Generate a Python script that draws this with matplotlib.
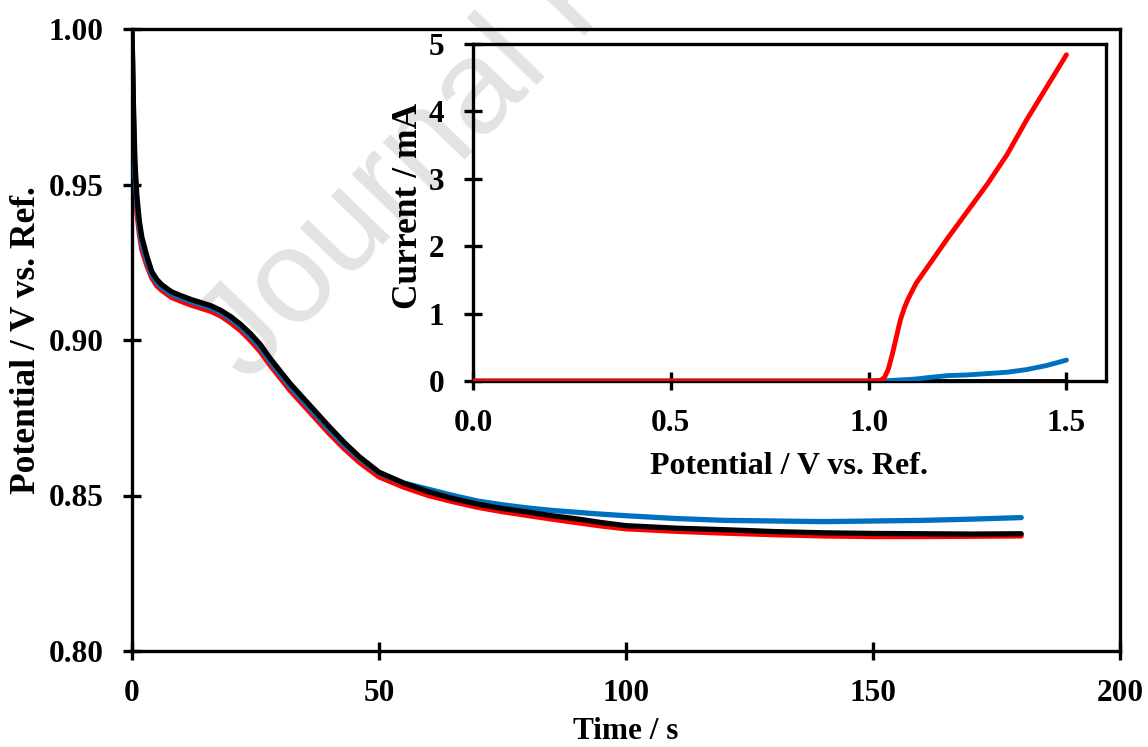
import matplotlib
matplotlib.use("Agg")
import matplotlib.pyplot as plt

# ---------------- data ----------------
time_s = [0, 0.3, 0.6, 1, 1.5, 2, 3, 4, 5, 6, 8, 10, 12, 14, 16, 18, 20, 22, 24,
          26, 28, 30, 32, 34, 36, 38, 40, 43, 46, 50, 55, 60, 65, 70, 75, 80, 85,
          90, 95, 100, 110, 120, 130, 140, 150, 160, 170, 180]

pot_black = [1.000, 0.975, 0.957, 0.946, 0.938, 0.933, 0.927, 0.922, 0.9195, 0.9178,
             0.9155, 0.9142, 0.913, 0.912, 0.911, 0.9095, 0.9075, 0.905, 0.902,
             0.8985, 0.894, 0.890, 0.886, 0.8825, 0.879, 0.8755, 0.872, 0.867,
             0.8625, 0.8575, 0.854, 0.8512, 0.849, 0.8472, 0.8458, 0.8447, 0.8435,
             0.8425, 0.8413, 0.8403, 0.8395, 0.839, 0.8384, 0.838, 0.8378, 0.8377,
             0.8376, 0.8377]

pot_blue = [1.000, 0.972, 0.954, 0.944, 0.936, 0.931, 0.9255, 0.921, 0.9185, 0.917,
            0.9147, 0.9135, 0.9123, 0.9113, 0.9103, 0.9088, 0.9067, 0.9042, 0.901,
            0.8975, 0.893, 0.889, 0.885, 0.8815, 0.878, 0.8745, 0.871, 0.8662,
            0.862, 0.8572, 0.854, 0.852, 0.850, 0.8482, 0.847, 0.846, 0.8452,
            0.8446, 0.844, 0.8435, 0.8426, 0.842, 0.8418, 0.8416, 0.8418, 0.842,
            0.8424, 0.8429]

pot_red = [1.000, 0.965, 0.950, 0.941, 0.934, 0.929, 0.924, 0.920, 0.9175, 0.916,
           0.9137, 0.9124, 0.9112, 0.9102, 0.9092, 0.9077, 0.9055, 0.903, 0.8998,
           0.8962, 0.8918, 0.8878, 0.8838, 0.8803, 0.8768, 0.8733, 0.8698, 0.865,
           0.8607, 0.856, 0.8527, 0.850, 0.848, 0.8462, 0.8448, 0.8436, 0.8424,
           0.8413, 0.8402, 0.8393, 0.8385, 0.8379, 0.8374, 0.837, 0.8368, 0.8368,
           0.8369, 0.837]

lsv_potential = [0.0, 0.5, 1.0, 1.03, 1.04, 1.05, 1.06, 1.07, 1.08, 1.09, 1.10,
                 1.12, 1.15, 1.20, 1.25, 1.30, 1.35, 1.40, 1.45, 1.50]
cur_black = [0.0] * 20
cur_blue = [0.0, 0.0, 0.0, 0.0, 0.002, 0.005, 0.008, 0.012, 0.016, 0.019, 0.022,
            0.03, 0.05, 0.08, 0.09, 0.11, 0.13, 0.17, 0.23, 0.31]
cur_red = [0.0, 0.0, 0.0, 0.01, 0.05, 0.18, 0.40, 0.65, 0.90, 1.08, 1.22,
           1.45, 1.70, 2.12, 2.52, 2.92, 3.36, 3.88, 4.36, 4.84]

main_xticks = [0, 50, 100, 150, 200]
main_yticks = [0.80, 0.85, 0.90, 0.95, 1.00]
inset_xticks = [0.0, 0.5, 1.0, 1.5]
inset_yticks = [0, 1, 2, 3, 4, 5]

# ---------------- style ----------------
plt.rcParams['font.family'] = ['Liberation Serif', 'DejaVu Serif']
plt.rcParams['font.weight'] = 'bold'
RED = '#FF0000'
BLUE = '#0070C0'
BLACK = '#000000'

fig = plt.figure(figsize=(11.48, 7.47), dpi=100)

# watermark
fig.text(0.216, 0.485, 'Journal Pre-proof', fontsize=96, color='#e3e3e3',
         family='Liberation Sans', fontweight='normal', rotation=46,
         rotation_mode='anchor', ha='left', va='baseline', zorder=-5)

ax = fig.add_axes([132/1148, 1-651/747, 988/1148, 622/747])
ax.set_facecolor('none')
ax.plot(time_s, pot_red, color=RED, lw=3.8, solid_capstyle='round', zorder=2)
ax.plot(time_s, pot_blue, color=BLUE, lw=3.8, solid_capstyle='round', zorder=3)
ax.plot(time_s, pot_black, color=BLACK, lw=3.8, solid_capstyle='round', zorder=4)
ax.set_xlim(0, 200)
ax.set_ylim(0.80, 1.00)
ax.set_xticks(main_xticks)
ax.set_xticklabels([str(v) for v in main_xticks])
ax.set_yticks(main_yticks)
ax.set_yticklabels([f'{v:.2f}' for v in main_yticks])
for s in ax.spines.values():
    s.set_linewidth(2.4)
ax.tick_params(direction='inout', length=13, width=2.4, labelsize=22.5, pad=14)
ax.set_xlabel('Time / s', fontsize=22.5, fontweight='bold')
ax.set_ylabel('Potential / V vs. Ref.', fontsize=25.5, fontweight='bold')
ax.xaxis.set_label_coords(0.5, -0.106)
ax.yaxis.set_label_coords(-0.09, 0.5)

ins = fig.add_axes([473/1148, 1-381/747, 633/1148, 337/747])
ins.set_facecolor('none')
ins.plot(lsv_potential, cur_black, color=BLACK, lw=3.5, solid_capstyle='round', zorder=2)
ins.plot(lsv_potential, cur_blue, color=BLUE, lw=3.5, solid_capstyle='round', zorder=3)
ins.plot(lsv_potential, cur_red, color=RED, lw=3.5, solid_capstyle='round', zorder=4)
ins.set_xlim(0, 1.6)
ins.set_ylim(0, 5)
ins.set_xticks(inset_xticks)
ins.set_xticklabels([f'{v:.1f}' for v in inset_xticks])
ins.set_yticks(inset_yticks)
ins.set_yticklabels([str(v) for v in inset_yticks])
for s in ins.spines.values():
    s.set_linewidth(2.4)
ins.tick_params(direction='inout', length=13, width=2.4, labelsize=22.5, pad=14)
ins.set_xlabel('Potential / V vs. Ref.', fontsize=23, fontweight='bold')
ins.set_ylabel('Current / mA', fontsize=25.5, fontweight='bold')
ins.xaxis.set_label_coords(0.5, -0.21)
ins.yaxis.set_label_coords(-0.076, 0.52)

fig.savefig('out.png', dpi=100)
